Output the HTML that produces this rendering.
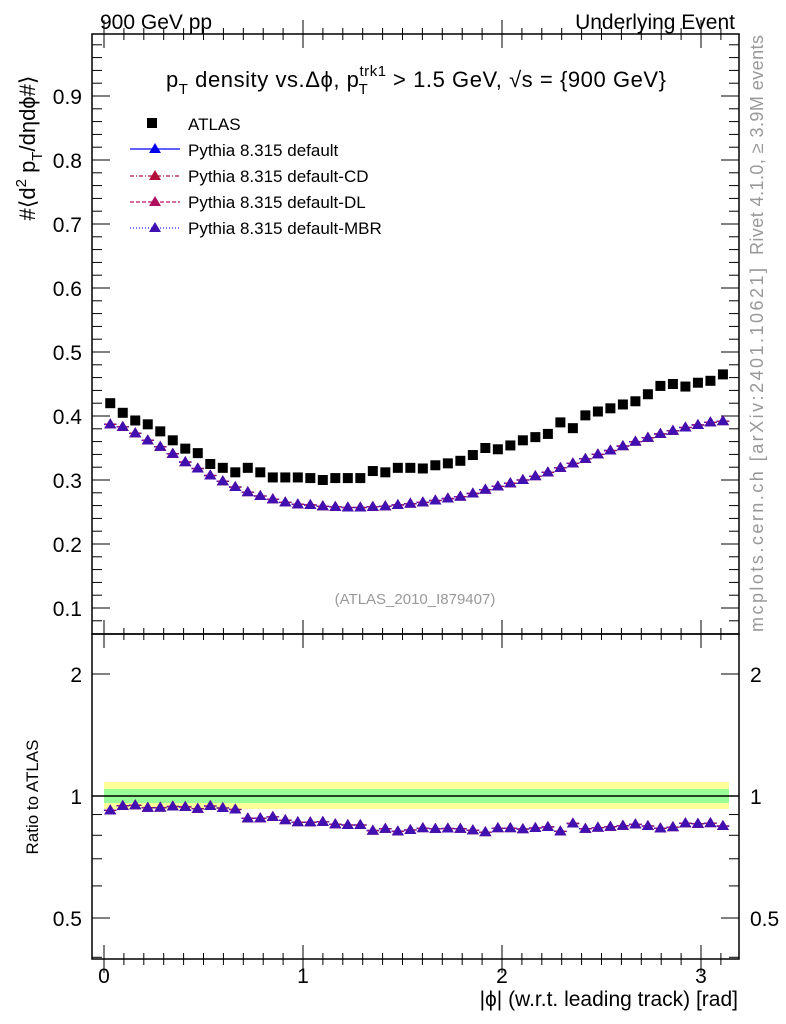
<!DOCTYPE html>
<html><head><meta charset="utf-8"><style>
html,body{margin:0;padding:0;background:#fff}
svg{display:block;font-family:"Liberation Sans",sans-serif}
</style></head><body>
<svg id="c" width="786" height="1024" xmlns="http://www.w3.org/2000/svg">
<rect x="104" y="782" width="625" height="27" fill="#ffff99"/>
<rect x="104" y="789" width="625" height="14" fill="#99ff99"/>
<line x1="92" y1="796" x2="739" y2="796" stroke="#000" stroke-width="1.5"/>
<g id="axes"></g>
<g id="marks"></g>
<text x="100" y="29" font-size="21">900 GeV pp</text>
<text x="735" y="29" font-size="21" text-anchor="end">Underlying Event</text>
<text x="416" y="87" font-size="22" text-anchor="middle" textLength="500">p<tspan font-size="15" dy="7">T</tspan><tspan dy="-7"> density vs.Δϕ, p</tspan><tspan font-size="15" dy="-11">trk1</tspan><tspan font-size="15" dx="-28" dy="18">T</tspan><tspan dx="18" dy="-7"> &gt; 1.5 GeV, √s = {900 GeV}</tspan></text>
<text transform="translate(35,148) rotate(-90)" font-size="22" text-anchor="middle">#⟨d<tspan font-size="15" dy="-9">2</tspan><tspan dy="9"> p</tspan><tspan font-size="15" dy="7">T</tspan><tspan dy="-7">/dηdϕ#⟩</tspan></text>
<text transform="translate(38,797) rotate(-90)" font-size="17" text-anchor="middle">Ratio to ATLAS</text>
<text x="738" y="1006" font-size="21" text-anchor="end">|ϕ| (w.r.t. leading track) [rad]</text>
<text transform="translate(763,145) rotate(-90)" font-size="18" fill="#999" text-anchor="middle" textLength="220">Rivet 4.1.0, ≥ 3.9M events</text>
<text transform="translate(763,450) rotate(-90)" font-size="18" fill="#999" text-anchor="middle" textLength="364">mcplots.cern.ch [arXiv:2401.10621]</text>
<text x="415" y="604" font-size="15" fill="#999" text-anchor="middle">(ATLAS_2010_I879407)</text>
<g>
<rect x="147" y="118" width="10" height="10" fill="#000"/>
<text x="188" y="130" font-size="17">ATLAS</text>
<line x1="130" y1="149" x2="180" y2="149" stroke="#00f" stroke-width="1.3"/>
<polygon points="155,143 149,153 161,153" fill="#0000ee"/>
<text x="188" y="156" font-size="17">Pythia 8.315 default</text>
<line x1="130" y1="176" x2="180" y2="176" stroke="#b0103a" stroke-width="1.3" stroke-dasharray="4,2,1,2"/>
<polygon points="155,170 149,180 161,180" fill="#b0103a"/>
<text x="188" y="182" font-size="17">Pythia 8.315 default-CD</text>
<line x1="130" y1="202" x2="180" y2="202" stroke="#c01070" stroke-width="1.3" stroke-dasharray="4,2"/>
<polygon points="155,196 149,206 161,206" fill="#b01060"/>
<text x="188" y="208" font-size="17">Pythia 8.315 default-DL</text>
<line x1="130" y1="228" x2="180" y2="228" stroke="#2020e0" stroke-width="1.3" stroke-dasharray="1,2"/>
<polygon points="155,222 149,232 161,232" fill="#4010b0"/>
<text x="188" y="234" font-size="17">Pythia 8.315 default-MBR</text>
</g>
</svg>
<script>
const atlas=[0.420,0.405,0.393,0.387,0.376,0.362,0.349,0.342,0.325,0.319,0.312,0.319,0.312,0.304,0.304,0.304,0.303,0.300,0.303,0.303,0.303,0.314,0.312,0.319,0.319,0.318,0.323,0.326,0.330,0.339,0.350,0.348,0.354,0.362,0.367,0.372,0.390,0.381,0.401,0.407,0.412,0.418,0.423,0.434,0.447,0.450,0.446,0.452,0.455,0.465];
const pythia=[0.387,0.383,0.373,0.362,0.352,0.341,0.328,0.318,0.307,0.298,0.289,0.281,0.275,0.270,0.265,0.262,0.261,0.259,0.258,0.257,0.257,0.258,0.259,0.261,0.263,0.265,0.268,0.271,0.274,0.279,0.285,0.290,0.295,0.300,0.306,0.312,0.319,0.326,0.333,0.340,0.346,0.353,0.360,0.366,0.372,0.377,0.382,0.386,0.390,0.392];
const xTicks=[0,1,2,3];
const yTicks=[0.1,0.2,0.3,0.4,0.5,0.6,0.7,0.8,0.9];
const rTicks=[0.5,1,2];
const NB=atlas.length, XMAX=Math.PI;
const X=v=>104+v*199;
const Y=v=>608-(v-0.1)*640;
const R=r=>796-Math.log2(r)*122;
const ns="http://www.w3.org/2000/svg";
const ax=document.getElementById('axes'), mk=document.getElementById('marks');
function el(t,a,p){const e=document.createElementNS(ns,t);for(const k in a)e.setAttribute(k,a[k]);p.appendChild(e);return e;}
const L=92,RT=739,T=34,M=634,B=959;
let f1=el('rect',{x:L,y:T,width:RT-L,height:M-T,fill:'none',stroke:'#000','stroke-width':1.5},ax);


let f2=el('rect',{x:L,y:M,width:RT-L,height:B-M,fill:'none',stroke:'#000','stroke-width':1.5},ax);


for(let i=0;i<=31;i++){const v=i/10,x=X(v),maj=i%10==0,len=maj?14:6;
 for(const yy of [T,M,B]){el('line',{x1:x,y1:yy,x2:x,y2:yy-len,stroke:'#000'},ax);el('line',{x1:x,y1:yy,x2:x,y2:yy+len,stroke:'#000'},ax);}
}
xTicks.forEach(v=>{const t=el('text',{x:X(v),y:983,'font-size':21,'text-anchor':'middle'},ax);t.textContent=v;

});
for(let i=4;i<=49;i++){const v=i/50,y=Y(v);if(y<T||y>M)continue;const maj=i%5==0,len=maj?18:10;
 el('line',{x1:L,y1:y,x2:L+len,y2:y,stroke:'#000'},ax);el('line',{x1:RT,y1:y,x2:RT-len,y2:y,stroke:'#000'},ax);}
yTicks.forEach(v=>{const t=el('text',{x:82,y:Y(v)+8,'font-size':21,'text-anchor':'end'},ax);t.textContent=v.toFixed(1);

});
[0.4,0.5,0.6,0.7,0.8,0.9,1,2,3].forEach(r=>{const y=R(r);if(y<M||y>B)return;const maj=rTicks.includes(r),len=maj?18:10;
 el('line',{x1:L,y1:y,x2:L+len,y2:y,stroke:'#000'},ax);el('line',{x1:RT,y1:y,x2:RT-len,y2:y,stroke:'#000'},ax);});
rTicks.forEach(r=>{for(const [x,a] of [[82,'end'],[750,'start']]){const t=el('text',{x:x,y:R(r)+8,'font-size':21,'text-anchor':a},ax);t.textContent=r;

}});
const bw=XMAX/NB;
const styles=[['#0000ee','none','#0000ee'],['#b0103a','4,2,1,2','#b0103a'],['#c01070','4,2','#b01060'],['#2020e0','1,2','#4010b0']];
function tri(x,y,c,p){const e=el('polygon',{points:`${x},${y-6} ${x-6},${y+4} ${x+6},${y+4}`,fill:c},p);return e;}
styles.forEach(s=>{
 let d='',dr='';
 pythia.forEach((v,i)=>{const x0=X(i*bw),x1=X((i+1)*bw);d+=`M${x0},${Y(v)}H${x1}`;dr+=`M${x0},${R(v/atlas[i])}H${x1}`;});
 el('path',{d:d,stroke:s[0],fill:'none','stroke-dasharray':s[1],'stroke-width':1.3},mk);
 el('path',{d:dr,stroke:s[0],fill:'none','stroke-dasharray':s[1],'stroke-width':1.3},mk);
});
styles.forEach(s=>{pythia.forEach((v,i)=>{const x=X((i+0.5)*bw);
 const a=tri(x,Y(v),s[2],mk);
 const b=tri(x,R(v/atlas[i]),s[2],mk);});});
atlas.forEach((v,i)=>{const x=X((i+0.5)*bw);const r=el('rect',{x:x-5,y:Y(v)-5,width:10,height:10,fill:'#000'},mk);

});
</script>
</body></html>
